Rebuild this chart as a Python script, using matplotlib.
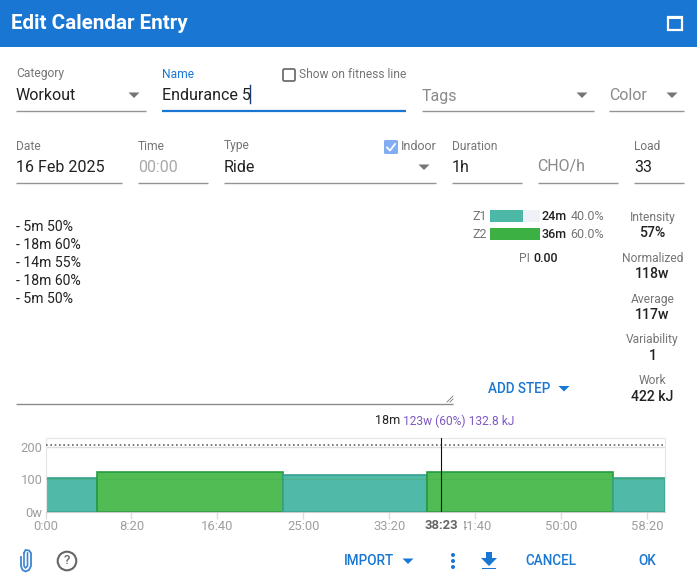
import matplotlib
matplotlib.use("Agg")
import matplotlib.pyplot as plt
from matplotlib.patches import Rectangle, Circle, Polygon, FancyBboxPatch

plt.rcParams['font.family'] = ['Roboto', 'DejaVu Sans']

# workout steps
step_minutes = [5, 18, 14, 18, 5]
step_percent = [50, 60, 55, 60, 50]
step_watts = [102.5, 123, 112.75, 123, 102.5]
step_zone = ["Z1", "Z2", "Z1", "Z2", "Z1"]
ftp_watts = 205
cursor_seconds = 2303

x_tick_seconds = [0, 500, 1000, 1500, 2000, 2500, 3000, 3500]
x_tick_labels = ["0:00", "8:20", "16:40", "25:00", "33:20", "41:40", "50:00", "58:20"]
y_ticks = [0, 100, 200]
y_tick_labels = ["0w", "100", "200"]

zone_names = ["Z1", "Z2"]
zone_percent = [40.0, 60.0]
zone_times = ["24m", "36m"]

stat_labels = ["Intensity", "Normalized", "Average", "Variability", "Work"]
stat_values = ["57%", "118w", "117w", "1", "422 kJ"]
description = ["- 5m 50%", "- 18m 60%", "- 14m 55%", "- 18m 60%", "- 5m 50%"]

BLUE = "#1976D2"
GRAY = "#757575"
DARK = "#212121"
LINE = "#949494"
TEAL = "#4DB8A5"
TEAL_EDGE = "#35A08E"
GREEN = "#4CBB4F"
GREEN_EDGE = "#259B3E"
PX = 0.72  # css px to points at 100 dpi

fig = plt.figure(figsize=(6.97, 5.84), dpi=100, facecolor="white")
ui = fig.add_axes([0, 0, 1, 1])
ui.set_xlim(0, 697)
ui.set_ylim(584, 0)
ui.axis("off")


def label(x, y, s, size=12, color=GRAY, ha="left", weight="normal"):
    ui.text(x, y, s, fontsize=size * PX, color=color, ha=ha, va="center", fontweight=weight)


def underline(x0, x1, y, color=LINE, lw=1.0):
    ui.plot([x0, x1], [y, y], color=color, lw=lw, solid_capstyle="butt")


def caret(x, y, color=GRAY):
    ui.add_patch(Polygon([(x - 5.5, y - 2.5), (x + 5.5, y - 2.5), (x, y + 3)], fc=color, ec="none"))


# header
ui.add_patch(Rectangle((0, 0), 697, 47, fc=BLUE, ec="none"))
label(11, 23.5, "Edit Calendar Entry", size=20.7, color="white", weight="bold")
ui.add_patch(Rectangle((668, 17), 14, 13, fc="none", ec="white", lw=1.6))
ui.add_patch(Rectangle((668, 16.5), 14, 2.5, fc="white", ec="none"))

# first row of fields
label(16, 74, "Category")
label(16, 95.5, "Workout", size=16, color=DARK)
caret(134, 95)
underline(16, 146, 111)
label(162, 74, "Name", color=BLUE)
label(162, 95.5, "Endurance 5", size=16, color=DARK)
ui.plot([250, 250], [85, 103], color="#1A3E6E", lw=1)
underline(162, 406, 110.5, color=BLUE, lw=1.6)
ui.add_patch(FancyBboxPatch((283, 69), 12, 12, boxstyle="round,pad=0,rounding_size=1.5",
                            fc="white", ec="#707070", lw=1.3))
label(299, 75, "Show on fitness line")
label(422, 96, "Tags", size=16, color="#8A8A8A")
caret(582, 95)
underline(422, 594, 111)
label(609, 96, "Color", size=16, color="#8A8A8A")
caret(672, 95)
underline(609, 684, 111)

# second row of fields
label(16, 146, "Date")
label(16, 167, "16 Feb 2025", size=16, color=DARK)
underline(16, 122, 183)
label(138, 146, "Time")
label(138, 167, "00:00", size=16, color="#A8A8A8")
underline(138, 208, 183)
label(224, 146, "Type")
label(224, 167, "Ride", size=16, color=DARK)
caret(424, 167)
underline(224, 436, 183)
ui.add_patch(FancyBboxPatch((384, 140), 14, 14, boxstyle="round,pad=0,rounding_size=1.5",
                            fc="#82ADF5", ec="none"))
ui.plot([387, 390, 395], [147.5, 150.5, 144], color="white", lw=1.3)
label(401, 147, "Indoor", size=12.5)
label(452, 146, "Duration")
label(452, 167, "1h", size=16, color=DARK)
underline(452, 522, 183)
label(537.5, 167, "CHO/h", size=16, color="#8A8A8A")
underline(538, 618, 183)
label(634, 146, "Load")
label(634, 167, "33", size=16, color=DARK)
underline(634, 684, 183)

# description box
for i, line in enumerate(description):
    label(16, 227 + 18 * i, line, size=14, color=DARK)
underline(16, 453, 404, color="#8C8C8C")
ui.plot([447, 453], [402, 396], color="#777777", lw=0.6)
ui.plot([450, 453], [402, 399], color="#777777", lw=0.6)

# time in zones
bar_left = 490
bar_scale = 50 / max(zone_percent)
for i, name in enumerate(zone_names):
    y = 216 + 18 * i
    ui.add_patch(Rectangle((bar_left, y - 6), 50, 12, fc="#EEF1F8", ec="none"))
    ui.barh(y, zone_percent[i] * bar_scale, height=12, left=bar_left,
            color=[TEAL, "#3CB043"][i])
    label(487, y, name, ha="right", size=12.5)
    label(542, y, zone_times[i], size=12.5, color=DARK, weight=500)
    label(570.5, y, f"{zone_percent[i]:.1f}%", size=12.5)
ui.set_xlim(0, 697)
ui.set_ylim(584, 0)
label(519, 258, "PI")
label(533.5, 258, "0.00", size=12.5, color=DARK, weight=500)

# stats column
stat_y = [217, 258, 299, 340, 381]
for y, name, value in zip(stat_y, stat_labels, stat_values):
    label(652.5, y, name, ha="center")
    label(652.5, y + 16, value, size=14, color=DARK, ha="center", weight=500)

label(488, 389, "ADD STEP", size=13.5, color=BLUE, weight=500)
caret(564, 388.5, color=BLUE)

# cursor readout
label(375, 421, "18m", size=12.5, color=DARK)
label(403, 421, "123w (60%) 132.8 kJ", size=12, color="#7E57C2")

# power chart
ax = fig.add_axes([45.5 / 697, 1 - 512 / 584, 619 / 697, 74 / 584], zorder=2)
ax.set_xlim(0, 3600)
ax.set_ylim(0, 226)
ax.set_facecolor("none")
start = 0
for minutes, watts, zone in zip(step_minutes, step_watts, step_zone):
    width = minutes * 60
    fc, ec = (GREEN, GREEN_EDGE) if zone == "Z2" else (TEAL, TEAL_EDGE)
    ax.bar(start, watts, width=width, align="edge", color=fc, edgecolor=ec, lw=1.2, zorder=2, alpha=0.98)
    start += width
ax.axhline(200, color="#DDDDDD", lw=1, zorder=1)
ax.axhline(100, color="#3FA84A", lw=0.6, alpha=0.35, zorder=3)
ax.axhline(ftp_watts, color="#666666", lw=1.2, ls=(0, (1, 1.6)), zorder=3)
ax.axvline(cursor_seconds, color="#111111", lw=0.8, zorder=5)
ax.set_xticks(x_tick_seconds, x_tick_labels)
ax.set_yticks(y_ticks, y_tick_labels)
ax.tick_params(axis="both", colors="#DDDDDD", labelcolor="#9E9E9E", labelsize=13 * PX, length=5, width=1, pad=1)
ax.tick_params(axis="y", length=0, pad=2)
for side in ("left", "top", "right"):
    ax.spines[side].set_color("#E6E6E6")
ax.spines["bottom"].set_color("#CCCCCC")
# the readout label covers the start of the neighbouring tick label
ax.add_patch(Rectangle((cursor_seconds - 115, -62), 248, 42, fc="white", ec="none",
                       zorder=5.5, clip_on=False))
ax.text(cursor_seconds, -42, "38:23", fontsize=13 * PX, color="#666666", fontweight="bold",
        ha="center", va="center", zorder=6, clip_on=False)

# footer
ui.add_patch(Circle((67, 561), 9.3, fc="none", ec="#666666", lw=1.5))
ui.text(67, 561, "?", fontsize=13 * PX, color="#666666", ha="center", va="center", fontweight=500)
ui.plot([24, 24, 25.5, 27.5, 27.5], [553, 566, 568, 566, 553], color="#3D86D2", lw=1.2, solid_joinstyle="round")
ui.plot([21, 21, 22.5, 25.5, 29, 31, 31, 29, 25.5, 24], [557, 566, 570, 571.5, 570, 566, 553, 550.5, 550, 553],
        color="#3D86D2", lw=1.3, solid_joinstyle="round")
label(344, 561, "IMPORT", size=13.5, color=BLUE, weight=500)
caret(408, 561, color=BLUE)
for y in (555, 561, 567):
    ui.add_patch(Circle((453, y), 2, fc=BLUE, ec="none"))
ui.add_patch(Polygon([(486, 552), (492, 552), (492, 558), (497, 558), (489, 566), (481, 558), (486, 558)],
                     fc=BLUE, ec="none"))
ui.add_patch(Rectangle((482, 567.5), 14, 1.8, fc=BLUE, ec="none"))
label(525, 561, "CANCEL", size=13.5, color=BLUE, weight=500)
label(638, 561, "OK", size=13.5, color=BLUE, weight=500)

fig.savefig("out.png", dpi=100)
